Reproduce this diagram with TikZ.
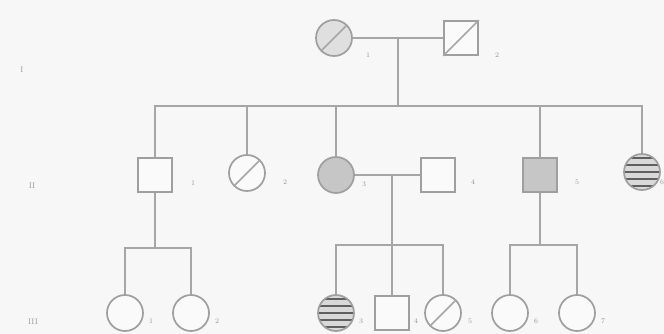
\documentclass[tikz,border=0pt]{standalone}
\usepackage{tikz}
\usetikzlibrary{shapes, positioning, calc}
\tikzset{
    % pedigree symbols
    male/.style={rectangle, draw=gray!75, line width=1.7pt, minimum size=34pt, inner sep=0pt, fill=white!96!gray},
    female/.style={circle, draw=gray!75, line width=1.7pt, minimum size=36pt, inner sep=0pt, fill=white!96!gray},
    affected/.style={fill=gray!45},
    striped/.style={fill=gray!30, path picture={
        \foreach \k in {-2,...,2}
            \draw[gray!75!black, line width=2pt] ([yshift=\k*7pt, xshift=-2pt]path picture bounding box.west) -- ++(40pt,0pt);
    }},
    line/.style={draw=gray!70, line width=1.6pt},
    num/.style={font=\scriptsize, text=gray!85, inner sep=1pt},
    gen/.style={font=\footnotesize, text=gray!80}
}

\begin{document}
\begin{tikzpicture}[x=1pt, y=-1pt]
        \fill[gray!6] (0,0) rectangle (664,334);
        \useasboundingbox (0,0) rectangle (664,334);

        % generation labels
        \node[gen] (gI) at (22,70) {I};
        \node[gen] (gII) at (32,186) {II};
        \node[gen] (gIII) at (33,322) {III};

        % generation I
        \node[female, fill=gray!25] (I1) at (334,38) {};
        \node[male] (I2) at (461,38) {};
        \node[num] (nI1) at (368,55) {1};
        \node[num] (nI2) at (497,55) {2};

        % generation II
        \node[male] (II1) at (155,175) {};
        \node[female] (II2) at (247,173) {};
        \node[female, affected] (II3) at (336,175) {};
        \node[male] (II4) at (438,175) {};
        \node[male, affected] (II5) at (540,175) {};
        \node[female, striped] (II6) at (642,172) {};
        \node[num] (nII1) at (193,183) {1};
        \node[num] (nII2) at (285,182) {2};
        \node[num] (nII3) at (364,184) {3};
        \node[num] (nII4) at (473,182) {4};
        \node[num] (nII5) at (577,182) {5};
        \node[num] (nII6) at (662,182) {6};

        % generation III
        \node[female] (III1) at (125,313) {};
        \node[female] (III2) at (191,313) {};
        \node[female, striped] (III3) at (336,313) {};
        \node[male] (III4) at (392,313) {};
        \node[female] (III5) at (443,313) {};
        \node[female] (III6) at (510,313) {};
        \node[female] (III7) at (577,313) {};
        \node[num] (nIII1) at (151,321) {1};
        \node[num] (nIII2) at (217,321) {2};
        \node[num] (nIII3) at (361,321) {3};
        \node[num] (nIII4) at (416,321) {4};
        \node[num] (nIII5) at (470,321) {5};
        \node[num] (nIII6) at (536,321) {6};
        \node[num] (nIII7) at (603,321) {7};

        % deceased marks
        \draw[line] (I1.south west) -- (I1.north east);
        \draw[line] (I2.south west) -- (I2.north east);
        \draw[line] (II2.south west) -- (II2.north east);
        \draw[line] (III5.south west) -- (III5.north east);

        % matings and descent
        \coordinate (m1) at (398,38);
        \coordinate (s2) at (398,106);
        \draw[line] (I1) -- (I2);
        \draw[line] (m1) -- (s2);
        \draw[line] (II1) |- (s2) -| (II6);
        \draw[line] (II2) -- (II2 |- s2);
        \draw[line] (II3) -- (II3 |- s2);
        \draw[line] (II5) -- (II5 |- s2);

        \coordinate (m2) at (392,176);
        \coordinate (s3b) at (392,245);
        \draw[line] (II3) -- (II4);
        \draw[line] (m2) -- (III4);
        \draw[line] (III3) |- (s3b) -| (III5);

        \coordinate (s3a) at (155,248);
        \draw[line] (II1) -- (s3a);
        \draw[line] (III1) |- (s3a) -| (III2);

        \coordinate (s3c) at (540,245);
        \draw[line] (II5) -- (s3c);
        \draw[line] (III6) |- (s3c) -| (III7);
    \end{tikzpicture}
\end{document}
